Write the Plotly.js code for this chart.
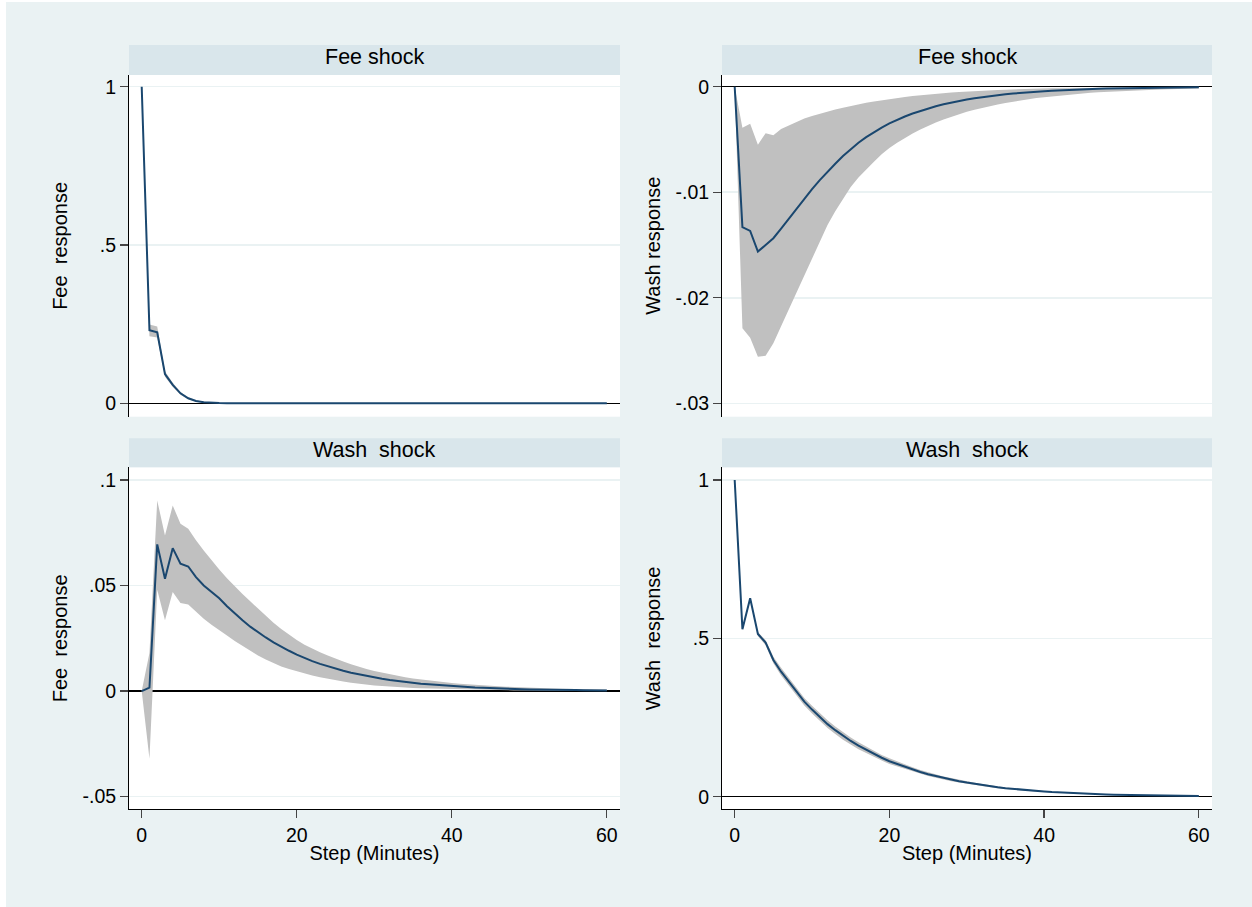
<!DOCTYPE html>
<html>
<head>
<meta charset="utf-8">
<script src="https://cdn.plot.ly/plotly-3.0.1.min.js"></script>
<style>
  html, body { margin: 0; padding: 0; background: #ffffff; }
  #chart { position: absolute; left: 6px; top: 2px; width: 1246px; height: 905px; }
</style>
</head>
<body>
<div id="chart"></div>
<script>
// ---------------- data ----------------
const steps = [0,1,2,3,4,5,6,7,8,9,10,11,12,13,14,15,16,17,18,19,20,21,22,23,24,25,26,27,28,29,30,
  31,32,33,34,35,36,37,38,39,40,41,42,43,44,45,46,47,48,49,50,51,52,53,54,55,56,57,58,59,60];

// Fee shock -> Fee response
const feeFee = [1, 0.231, 0.224, 0.0925, 0.058, 0.0315, 0.016, 0.0075, 0.0035, 0.0016,
  0.0007, 0.0003, 0.00015, 0.0001, 0.0001, 0.0001, 0.0001, 0.0001, 0.0001, 0.0001,
  0.0001, 0.00005, 0.00005, 0.00005, 0.00005, 0.00005, 0.00005, 0.00005, 0.00005, 0.00005,
  0.00005, 0, 0, 0, 0, 0, 0, 0, 0, 0,
  0, 0, 0, 0, 0, 0, 0, 0, 0, 0,
  0, 0, 0, 0, 0, 0, 0, 0, 0, 0, 0];
const feeFeeLo = [1, 0.212, 0.208, 0.084, 0.052, 0.027, 0.013, 0.0055, 0.002, 0.0006,
  0.0001, -0.0001, -0.0002, -0.0002, -0.0002, -0.0002, -0.0002, -0.0002, -0.0001, -0.0001,
  -0.0001, -0.0001, -0.0001, -0.0001, -0.0001, -0.0001, -0.0001, -0.0001, -0.0001, -0.0001,
  -0.0001, -0.0001, -0.0001, -0.0001, -0.0001, 0, 0, 0, 0, 0,
  0, 0, 0, 0, 0, 0, 0, 0, 0, 0,
  0, 0, 0, 0, 0, 0, 0, 0, 0, 0, 0];
const feeFeeHi = [1, 0.249, 0.243, 0.101, 0.065, 0.036, 0.019, 0.0095, 0.005, 0.0026,
  0.0013, 0.0007, 0.0005, 0.0004, 0.0004, 0.0004, 0.0004, 0.0004, 0.0003, 0.0003,
  0.0002, 0.0002, 0.0002, 0.0002, 0.0002, 0.0002, 0.0002, 0.0002, 0.0002, 0.0002,
  0.0002, 0.0002, 0.0001, 0.0001, 0.0001, 0.0001, 0.0001, 0.0001, 0.0001, 0.0001,
  0, 0, 0, 0, 0, 0, 0, 0, 0, 0,
  0, 0, 0, 0, 0, 0, 0, 0, 0, 0, 0];

// Fee shock -> Wash response
const washFee = [0, -0.01331, -0.01367, -0.01562, -0.0150, -0.01436, -0.01345, -0.0125, -0.0115, -0.0106,
  -0.0097, -0.00885, -0.00805, -0.0073, -0.00657, -0.0059, -0.00531, -0.00478, -0.0043, -0.00387,
  -0.00348, -0.00313, -0.00282, -0.00254, -0.00229, -0.00206, -0.00185, -0.00167, -0.0015, -0.00135,
  -0.00122, -0.0011, -0.00099, -0.00089, -0.0008, -0.00072, -0.00065, -0.00058, -0.00053, -0.00047,
  -0.00043, -0.00038, -0.00034, -0.00031, -0.00028, -0.00025, -0.00023, -0.0002, -0.00018, -0.00017,
  -0.00015, -0.00013, -0.00012, -0.00011, -0.0001, -0.00009, -0.00008, -0.00007, -0.00006, -0.00006,
  -0.00005];
const washFeeLo = [0, -0.0229, -0.0238, -0.0256, -0.0255, -0.0243, -0.0227, -0.0211, -0.0194, -0.0178,
  -0.0162, -0.0146, -0.0131, -0.0118, -0.0106, -0.0095, -0.0086, -0.0078, -0.0071, -0.0064,
  -0.0058, -0.0053, -0.00485, -0.00443, -0.00405, -0.0037, -0.00339, -0.0031, -0.00284, -0.0026,
  -0.00238, -0.00218, -0.002, -0.00183, -0.00168, -0.00154, -0.00141, -0.00129, -0.00118, -0.00108,
  -0.00099, -0.00091, -0.00083, -0.00076, -0.0007, -0.00064, -0.00058, -0.00053, -0.00049, -0.00045,
  -0.00041, -0.00038, -0.00035, -0.00032, -0.00029, -0.00027, -0.00024, -0.00022, -0.0002, -0.00019,
  -0.00017];
const washFeeHi = [0, -0.0039, -0.0035, -0.0055, -0.0044, -0.0046, -0.0040, -0.00365, -0.0033, -0.00302,
  -0.00278, -0.00256, -0.00236, -0.00217, -0.00199, -0.00182, -0.00166, -0.00152, -0.00139, -0.00127,
  -0.00116, -0.00106, -0.00097, -0.00088, -0.0008, -0.00073, -0.00066, -0.0006, -0.00055, -0.0005,
  -0.00045, -0.00041, -0.00037, -0.00034, -0.00031, -0.00028, -0.00025, -0.00023, -0.00021, -0.00019,
  -0.00017, -0.00015, -0.00014, -0.00013, -0.00011, -0.0001, -0.00009, -0.00008, -0.00008, -0.00007,
  -0.00006, -0.00006, -0.00005, -0.00005, -0.00004, -0.00004, -0.00003, -0.00003, -0.00003, -0.00002,
  -0.00002];

// Wash shock -> Fee response
const feeWash = [0, 0.0016, 0.0695, 0.0532, 0.0677, 0.0603, 0.059, 0.054, 0.050, 0.047,
  0.044, 0.0402, 0.0367, 0.0335, 0.0305, 0.0278, 0.0254, 0.0231, 0.021, 0.0191,
  0.0173, 0.0157, 0.0142, 0.0129, 0.0117, 0.0106, 0.0096, 0.0087, 0.0079, 0.0071,
  0.0064, 0.0058, 0.0052, 0.0047, 0.0043, 0.0039, 0.0035, 0.0032, 0.0029, 0.0026,
  0.0023, 0.0021, 0.0019, 0.0017, 0.0016, 0.0014, 0.0013, 0.0011, 0.001, 0.0009,
  0.0008, 0.0008, 0.0007, 0.0006, 0.0006, 0.0005, 0.0005, 0.0004, 0.0004, 0.0003,
  0.0003];
const feeWashLo = [0, -0.032, 0.048, 0.0335, 0.0469, 0.0417, 0.041, 0.0374, 0.0343, 0.0314,
  0.029, 0.0263, 0.0237, 0.0213, 0.0189, 0.0168, 0.015, 0.0133, 0.0117, 0.0104,
  0.0093, 0.0083, 0.0074, 0.0066, 0.0058, 0.0051, 0.0045, 0.004, 0.0035, 0.0031,
  0.0027, 0.0024, 0.0021, 0.0019, 0.0017, 0.0015, 0.0013, 0.0012, 0.0011, 0.001,
  0.0008, 0.0007, 0.0006, 0.0006, 0.0005, 0.0004, 0.0004, 0.0003, 0.0003, 0.0003,
  0.0002, 0.0002, 0.0002, 0.0002, 0.0001, 0.0001, 0.0001, 0.0001, 0.0001, 0.0001,
  0.0001];
const feeWashHi = [0, 0.018, 0.0903, 0.0737, 0.0879, 0.0793, 0.0769, 0.0714, 0.0666, 0.062,
  0.0576, 0.0535, 0.0496, 0.046, 0.0425, 0.0391, 0.0357, 0.0324, 0.0294, 0.0266,
  0.0242, 0.022, 0.0201, 0.0184, 0.0168, 0.0153, 0.014, 0.0127, 0.0115, 0.0104,
  0.0095, 0.0087, 0.0079, 0.0072, 0.0066, 0.006, 0.0055, 0.005, 0.0046, 0.0042,
  0.0038, 0.0035, 0.0032, 0.0029, 0.0027, 0.0025, 0.0023, 0.0021, 0.0019, 0.0017,
  0.0016, 0.0015, 0.0013, 0.0012, 0.0011, 0.001, 0.0009, 0.0009, 0.0008, 0.0007,
  0.0007];

// Wash shock -> Wash response
const washWash = [1, 0.5286, 0.6265, 0.5137, 0.4863, 0.4316, 0.3947, 0.363, 0.33, 0.30,
  0.275, 0.251, 0.229, 0.21, 0.192, 0.176, 0.161, 0.148, 0.135, 0.123,
  0.112, 0.103, 0.094, 0.086, 0.078, 0.071, 0.065, 0.059, 0.054, 0.049,
  0.0445, 0.0404, 0.0366, 0.0331, 0.0297, 0.0268, 0.0242, 0.0219, 0.0198, 0.0179,
  0.0162, 0.0146, 0.0132, 0.0119, 0.0108, 0.0098, 0.0088, 0.008, 0.0072, 0.0065,
  0.0059, 0.0053, 0.0048, 0.0043, 0.0039, 0.0035, 0.0032, 0.0029, 0.0026, 0.0023,
  0.0021];
const washWashLo = [1, 0.5286, 0.6265, 0.507, 0.478, 0.421, 0.383, 0.351, 0.318, 0.288,
  0.263, 0.239, 0.217, 0.198, 0.180, 0.165, 0.150, 0.138, 0.125, 0.114,
  0.103, 0.095, 0.087, 0.079, 0.072, 0.065, 0.060, 0.054, 0.049, 0.0445,
  0.0405, 0.0367, 0.0332, 0.0298, 0.0269, 0.0242, 0.0219, 0.0198, 0.0179, 0.0162,
  0.0147, 0.0132, 0.012, 0.0108, 0.0098, 0.0089, 0.008, 0.0072, 0.0065, 0.0059,
  0.0053, 0.0048, 0.0044, 0.0039, 0.0035, 0.0032, 0.0029, 0.0026, 0.0024, 0.0021,
  0.0019];
const washWashHi = [1, 0.5286, 0.6265, 0.520, 0.494, 0.442, 0.407, 0.375, 0.342, 0.312,
  0.287, 0.263, 0.241, 0.222, 0.204, 0.187, 0.172, 0.158, 0.145, 0.132,
  0.121, 0.111, 0.101, 0.093, 0.084, 0.077, 0.070, 0.064, 0.059, 0.0535,
  0.0485, 0.0441, 0.04, 0.0358, 0.0325, 0.0294, 0.0265, 0.024, 0.0217, 0.0196,
  0.0177, 0.016, 0.0144, 0.013, 0.0118, 0.0107, 0.0096, 0.0088, 0.0079, 0.0071,
  0.0065, 0.0058, 0.0052, 0.0047, 0.0043, 0.0038, 0.0035, 0.0032, 0.0028, 0.0025,
  0.0023];

// tick labels
const xTickVals = [0, 20, 40, 60];
const xTickText = ['0', '20', '40', '60'];
const yTicksFeeFee = { vals: [0, 0.5, 1], text: ['0', '.5', '1'] };
const yTicksWashFee = { vals: [-0.03, -0.02, -0.01, 0], text: ['-.03', '-.02', '-.01', '0'] };
const yTicksFeeWash = { vals: [-0.05, 0, 0.05, 0.1], text: ['-.05', '0', '.05', '.1'] };
const yTicksWashWash = { vals: [0, 0.5, 1], text: ['0', '.5', '1'] };

const panelTitles = ['Fee shock', 'Fee shock', 'Wash  shock', 'Wash  shock'];
const yTitles = ['Fee  response', 'Wash response', 'Fee  response', 'Wash  response'];
const xTitle = 'Step (Minutes)';

// ---------------- styling ----------------
const FONT = 'Liberation Sans, Arial, Helvetica, sans-serif';
const LINE = '#1a476f';
const BAND = '#c0c0c0';
const BG = '#eaf2f3';
const STRIP = '#d9e6eb';
const W = 1246, H = 905, OX = 6, OY = 2;
const px = v => (v - OX) / W;
const py = v => 1 - (v - OY) / H;

const colL = [px(129), px(620)];
const colR = [px(722), px(1212)];
const rowT = [py(416.7), py(75)];
const rowB = [py(809.3), py(467.3)];
const xRange = [-1.64, 61.7];

function bandTraces(lo, hi, mid, xa, ya) {
  return [
    { x: steps, y: lo, xaxis: xa, yaxis: ya, type: 'scatter', mode: 'lines',
      line: { width: 0, color: BAND }, hoverinfo: 'skip', showlegend: false },
    { x: steps, y: hi, xaxis: xa, yaxis: ya, type: 'scatter', mode: 'lines', fill: 'tonexty',
      fillcolor: BAND, line: { width: 0, color: BAND }, hoverinfo: 'skip', showlegend: false },
    { x: steps, y: mid, xaxis: xa, yaxis: ya, type: 'scatter', mode: 'lines',
      line: { width: 2, color: LINE }, showlegend: false }
  ];
}

const data = [].concat(
  bandTraces(feeFeeLo, feeFeeHi, feeFee, 'x', 'y'),
  bandTraces(washFeeLo, washFeeHi, washFee, 'x2', 'y2'),
  bandTraces(feeWashLo, feeWashHi, feeWash, 'x3', 'y3'),
  bandTraces(washWashLo, washWashHi, washWash, 'x4', 'y4')
);

function xAxis(domain, anchor, bottom) {
  const a = {
    domain: domain, anchor: anchor, range: xRange, showgrid: false, zeroline: false,
    tickvals: xTickVals, ticktext: xTickText, fixedrange: true
  };
  if (bottom) {
    Object.assign(a, {
      showline: true, linecolor: '#000', linewidth: 1, ticks: 'outside', ticklen: 8,
      tickcolor: '#444', tickwidth: 1.3, showticklabels: true,
      tickfont: { family: FONT, size: 19.5, color: '#000' },
      title: { text: xTitle, font: { family: FONT, size: 20, color: '#000' }, standoff: 1 }
    });
  } else {
    Object.assign(a, { showline: false, ticks: '', showticklabels: false });
  }
  return a;
}
function yAxis(domain, anchor, range, t) {
  return {
    domain: domain, anchor: anchor, range: range, tickvals: t.vals, ticktext: t.text,
    showline: true, linecolor: '#000', linewidth: 1, ticks: 'outside', ticklen: 8,
    tickcolor: '#444', tickwidth: 1.3, tickfont: { family: FONT, size: 19.5, color: '#000' },
    showgrid: true, gridcolor: BG, gridwidth: 1.5,
    zeroline: true, zerolinecolor: '#000', zerolinewidth: 1.5, fixedrange: true
  };
}

const strips = [
  [colL, py(75), py(45)], [colR, py(75), py(45)],
  [colL, py(467.3), py(438.3)], [colR, py(467.3), py(438.3)]
];
const shapes = strips.map(s => ({
  type: 'rect', xref: 'paper', yref: 'paper', x0: s[0][0], x1: s[0][1], y0: s[1], y1: s[2],
  fillcolor: STRIP, line: { width: 0 }, layer: 'below'
}));

const annotations = [];
strips.forEach((s, i) => {
  annotations.push({
    xref: 'paper', yref: 'paper', x: (s[0][0] + s[0][1]) / 2, y: (s[1] + s[2]) / 2 + 3 / H,
    text: panelTitles[i], showarrow: false, xanchor: 'center', yanchor: 'middle',
    font: { family: FONT, size: 21.5, color: '#000' }
  });
});
const yTitlePos = [[px(60), rowT], [px(653), rowT], [px(60), rowB], [px(653), rowB]];
yTitlePos.forEach((p, i) => {
  annotations.push({
    xref: 'paper', yref: 'paper', x: p[0], y: (p[1][0] + p[1][1]) / 2, text: yTitles[i],
    textangle: -90, showarrow: false, xanchor: 'center', yanchor: 'middle',
    font: { family: FONT, size: 20, color: '#000' }
  });
});

const layout = {
  width: W, height: H,
  margin: { l: 0, r: 0, t: 0, b: 0, pad: 0 },
  paper_bgcolor: BG, plot_bgcolor: '#ffffff',
  showlegend: false,
  font: { family: FONT, color: '#000' },
  xaxis: xAxis(colL, 'y', false),
  xaxis2: xAxis(colR, 'y2', false),
  xaxis3: xAxis(colL, 'y3', true),
  xaxis4: xAxis(colR, 'y4', true),
  yaxis: yAxis(rowT, 'x', [-0.0423, 1.037], yTicksFeeFee),
  yaxis2: yAxis(rowT, 'x2', [-0.03127, 0.00111], yTicksWashFee),
  yaxis3: yAxis(rowB, 'x3', [-0.056, 0.106], yTicksFeeWash),
  yaxis4: yAxis(rowB, 'x4', [-0.0398, 1.040], yTicksWashWash),
  shapes: shapes,
  annotations: annotations
};

Plotly.newPlot('chart', data, layout, { displayModeBar: false, staticPlot: true });
</script>
</body>
</html>
